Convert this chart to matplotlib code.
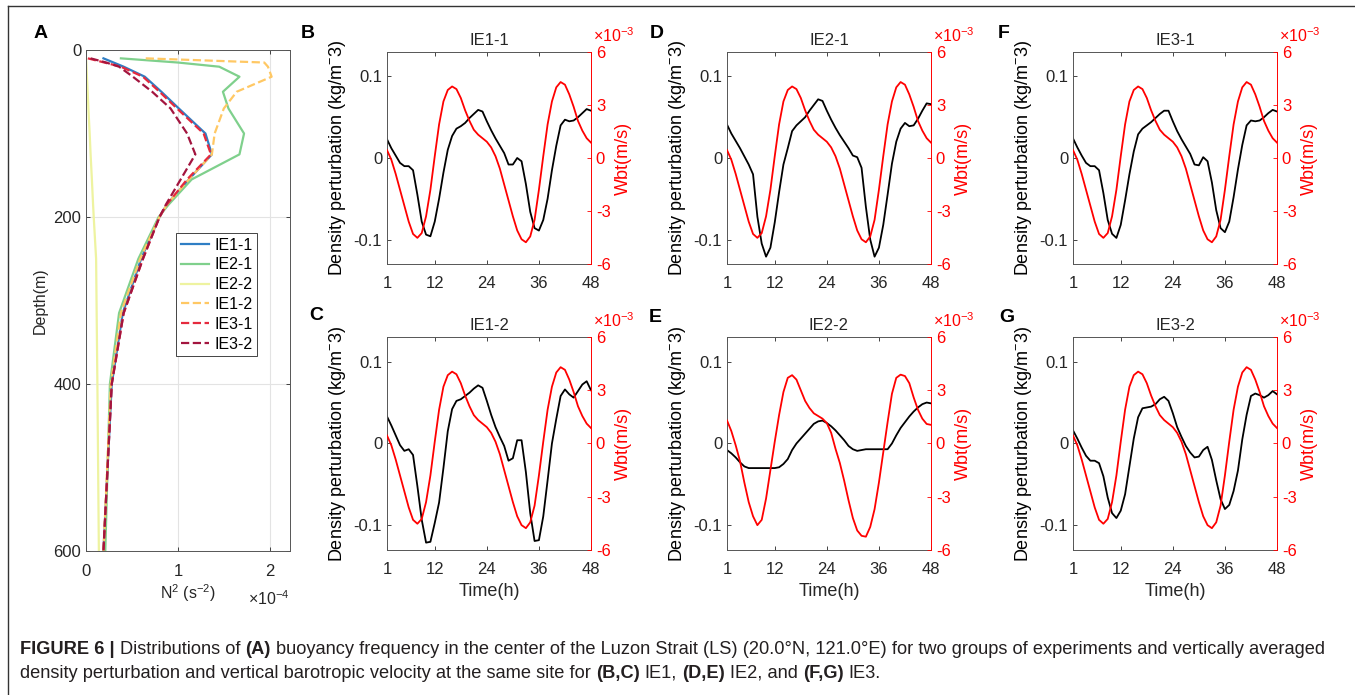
import numpy as np
import matplotlib
matplotlib.use("Agg")
import matplotlib.pyplot as plt
from matplotlib.lines import Line2D

plt.rcParams['font.family'] = ['Liberation Sans', 'DejaVu Sans']
plt.rcParams['mathtext.fontset'] = 'custom'
plt.rcParams['mathtext.rm'] = 'Liberation Sans'
plt.rcParams['mathtext.it'] = 'Liberation Sans:italic'
plt.rcParams['mathtext.bf'] = 'Liberation Sans:bold'
plt.rcParams['axes.unicode_minus'] = False

# ---- panel A: N^2 profiles (x in 1e-4 s^-2) ----
depth = [10, 15, 20, 32, 50, 70, 100, 125, 155, 185, 200, 250, 315, 400, 600]
n2_ie1_1 = [0.19, 0.30, 0.41, 0.64, 0.82, 1.01, 1.30, 1.37, 1.12, 0.88, 0.80, 0.60, 0.40, 0.28, 0.19]
n2_ie2_1 = [0.38, 1.00, 1.45, 1.67, 1.49, 1.55, 1.72, 1.67, 1.15, 0.90, 0.79, 0.57, 0.36, 0.26, 0.21]
n2_ie2_2 = [0.00, 0.003, 0.005, 0.01, 0.018, 0.026, 0.04, 0.05, 0.064, 0.077, 0.084, 0.11, 0.116, 0.124, 0.14]
n2_ie1_2 = [0.65, 1.94, 1.98, 2.02, 1.64, 1.50, 1.40, 1.37, 1.12, 0.88, 0.80, 0.59, 0.38, 0.27, 0.19]
n2_ie3_1 = [0.02, 0.20, 0.38, 0.62, 0.80, 0.99, 1.28, 1.36, 1.10, 0.88, 0.80, 0.62, 0.41, 0.28, 0.19]
n2_ie3_2 = [0.05, 0.22, 0.36, 0.51, 0.72, 0.92, 1.10, 1.19, 1.03, 0.87, 0.80, 0.62, 0.41, 0.28, 0.19]

profile_names = ['IE1-1', 'IE2-1', 'IE2-2', 'IE1-2', 'IE3-1', 'IE3-2']

# ---- panels B-G: hourly series ----
hours = np.arange(1, 49)

rho_ie1_1 = [0.023, 0.012, 0.003, -0.006, -0.010, -0.010, -0.015, -0.045, -0.078, -0.094,
             -0.096, -0.078, -0.050, -0.018, 0.010, 0.027, 0.036, 0.039, 0.043, 0.049,
             0.054, 0.059, 0.057, 0.045, 0.034, 0.024, 0.015, 0.006, -0.008, -0.008,
             0.000, -0.004, -0.032, -0.066, -0.086, -0.089, -0.076, -0.050, -0.015, 0.015,
             0.040, 0.047, 0.045, 0.046, 0.050, 0.055, 0.060, 0.058]
rho_ie1_2 = [0.033, 0.022, 0.010, -0.002, -0.009, -0.007, -0.014, -0.052, -0.093, -0.121,
             -0.120, -0.097, -0.072, -0.030, 0.015, 0.042, 0.052, 0.054, 0.058, 0.062,
             0.067, 0.071, 0.068, 0.052, 0.035, 0.020, 0.008, -0.003, -0.021, -0.018,
             0.004, 0.004, -0.035, -0.085, -0.119, -0.118, -0.089, -0.045, 0.000, 0.030,
             0.058, 0.066, 0.060, 0.056, 0.064, 0.072, 0.076, 0.065]
rho_ie2_1 = [0.041, 0.030, 0.021, 0.012, 0.002, -0.008, -0.020, -0.072, -0.105, -0.121,
             -0.110, -0.079, -0.042, -0.008, 0.012, 0.033, 0.040, 0.045, 0.050, 0.058,
             0.065, 0.072, 0.070, 0.058, 0.047, 0.037, 0.028, 0.020, 0.012, 0.003,
             0.001, -0.012, -0.060, -0.100, -0.121, -0.110, -0.082, -0.045, -0.007, 0.020,
             0.036, 0.043, 0.039, 0.040, 0.048, 0.058, 0.067, 0.066]
rho_ie2_2 = [-0.008, -0.012, -0.017, -0.023, -0.028, -0.030, -0.030, -0.030, -0.030, -0.030,
             -0.030, -0.030, -0.029, -0.025, -0.019, -0.008, 0.000, 0.006, 0.012, 0.018,
             0.024, 0.027, 0.028, 0.025, 0.021, 0.016, 0.010, 0.004, -0.003, -0.007,
             -0.009, -0.008, -0.007, -0.007, -0.007, -0.007, -0.007, -0.007, 0.000, 0.010,
             0.019, 0.026, 0.033, 0.039, 0.044, 0.048, 0.050, 0.049]
rho_ie3_1 = [0.024, 0.013, 0.003, -0.006, -0.010, -0.010, -0.015, -0.043, -0.076, -0.093,
             -0.098, -0.082, -0.052, -0.020, 0.008, 0.029, 0.036, 0.040, 0.044, 0.049,
             0.054, 0.058, 0.058, 0.045, 0.033, 0.023, 0.014, 0.005, -0.008, -0.009,
             0.001, -0.004, -0.030, -0.064, -0.086, -0.091, -0.078, -0.048, -0.014, 0.016,
             0.040, 0.046, 0.045, 0.046, 0.050, 0.055, 0.059, 0.057]
rho_ie3_2 = [0.016, 0.006, -0.005, -0.015, -0.021, -0.021, -0.024, -0.040, -0.066, -0.085,
             -0.091, -0.082, -0.062, -0.028, 0.006, 0.032, 0.043, 0.044, 0.045, 0.048,
             0.054, 0.057, 0.052, 0.037, 0.020, 0.008, -0.003, -0.011, -0.017, -0.016,
             -0.008, -0.004, -0.020, -0.045, -0.068, -0.080, -0.075, -0.058, -0.033, 0.005,
             0.035, 0.058, 0.061, 0.059, 0.056, 0.059, 0.064, 0.060]

# Wbt in 1e-3 m/s
wbt_main = [0.45, -0.1, -0.9, -1.8, -2.7, -3.6, -4.3, -4.52, -4.25, -3.3,
            -1.8, 0.1, 1.9, 3.2, 3.85, 4.05, 3.9, 3.4, 2.7, 2.1,
            1.6, 1.32, 1.12, 0.92, 0.6, 0.1, -0.6, -1.5, -2.4, -3.3,
            -4.1, -4.6, -4.77, -4.44, -3.5, -1.8, 0.1, 1.9, 3.2, 4.0,
            4.3, 4.15, 3.6, 2.9, 2.1, 1.55, 1.12, 0.87]
wbt_ie2_2 = [1.3, 0.7, -0.1, -1.0, -2.2, -3.3, -4.1, -4.6, -4.3, -3.1,
             -1.5, 0.1, 1.6, 2.9, 3.7, 3.85, 3.6, 3.0, 2.4, 2.0,
             1.7, 1.55, 1.4, 1.15, 0.6, -0.3, -1.1, -2.1, -3.2, -4.2,
             -4.9, -5.2, -5.25, -4.7, -3.7, -2.2, -0.5, 1.2, 2.8, 3.7,
             3.88, 3.8, 3.4, 2.6, 1.9, 1.4, 1.1, 1.05]

W, H = 1355, 695
fig = plt.figure(figsize=(W / 100, H / 100), dpi=100)
axc = '#262626'


def rect(l, t, r, b):
    return [l / W, 1 - b / H, (r - l) / W, (b - t) / H]


def ftext(x, y, s, **kw):
    return fig.text(x / W, 1 - y / H, s, **kw)


# ---- panel A ----
ax = fig.add_axes(rect(86, 50, 290, 551))
colors = ['#2f7ec4', '#7fd08c', '#eef3a0', '#ffc864', '#e52a3e', '#a3153f']
styles = ['-', '-', '-', '--', '--', '--']
for name, vals, c, ls in zip(profile_names,
                             [n2_ie1_1, n2_ie2_1, n2_ie2_2, n2_ie1_2, n2_ie3_1, n2_ie3_2],
                             colors, styles):
    ax.plot(vals, depth, color=c, ls=ls, lw=1.6, label=name)
ax.set_xlim(0, 2.22)
ax.set_ylim(600, 0)
ax.set_xticks([0, 1, 2])
ax.set_yticks([0, 200, 400, 600])
ax.grid(True, color='#e3e3e3', lw=0.8)
ax.set_axisbelow(True)
ax.tick_params(direction='in', top=True, right=True, length=3, labelsize=12,
               colors=axc, width=0.6)
ax.tick_params(axis='x', pad=9)
for s in ax.spines.values():
    s.set_color('#555555')
    s.set_linewidth(0.7)
ax.set_ylabel('Depth(m)', fontsize=11.5, color=axc, labelpad=4)
ax.set_xlabel('N$^2$ (s$^{-2}$)', fontsize=11.5, color=axc, labelpad=3)
ftext(290, 599, r'$\times$10$^{-4}$', fontsize=11.5, color=axc, ha='right', va='center')
leg = ax.legend(loc='upper left', bbox_to_anchor=(0.44, 0.635), fontsize=11.5,
                frameon=True, fancybox=False, edgecolor=axc, framealpha=1,
                handlelength=1.8, handletextpad=0.3, labelspacing=0.3,
                borderpad=0.3, borderaxespad=0)
leg.get_frame().set_linewidth(0.6)
ftext(41, 33, 'A', fontsize=14, fontweight='bold', ha='center', va='center')

# ---- panels B-G ----
panels = [
    ('B', 'IE1-1', rho_ie1_1, wbt_main, (387, 52, 591, 264), False, (308, 33)),
    ('C', 'IE1-2', rho_ie1_2, wbt_main, (387, 337, 591, 550), True, (316, 315)),
    ('D', 'IE2-1', rho_ie2_1, wbt_main, (727, 52, 931, 264), False, (657, 33)),
    ('E', 'IE2-2', rho_ie2_2, wbt_ie2_2, (727, 337, 931, 550), True, (655, 317)),
    ('F', 'IE3-1', rho_ie3_1, wbt_main, (1073, 52, 1277, 264), False, (1004, 33)),
    ('G', 'IE3-2', rho_ie3_2, wbt_main, (1073, 337, 1277, 550), True, (1007, 318)),
]

for letter, title, rho, wbt, box, xlab, lpos in panels:
    ax = fig.add_axes(rect(*box))
    ax.plot(hours, rho, color='black', lw=1.3)
    ax.set_xlim(1, 48)
    ax.set_ylim(-0.13, 0.13)
    ax.set_xticks([1, 12, 24, 36, 48])
    ax.set_yticks([-0.1, 0, 0.1])
    ax.set_yticklabels(['-0.1', '0', '0.1'])
    ax.tick_params(direction='in', top=True, right=False, length=3, labelsize=12,
                   colors=axc, width=0.6)
    ax.tick_params(axis='x', pad=9)
    for s in ax.spines.values():
        s.set_color('#555555')
        s.set_linewidth(0.7)
    ax.spines['right'].set_visible(False)
    ax.set_title(title, fontsize=12, color=axc, pad=5)
    ax.set_ylabel('Density perturbation (kg/m$^{-}$3)', fontsize=13, color='black', labelpad=4)
    if xlab:
        ax.set_xlabel('Time(h)', fontsize=13, color=axc, labelpad=4)

    ax2 = ax.twinx()
    ax2.plot(hours, wbt, color='red', lw=1.3)
    ax2.set_ylim(-6, 6)
    ax2.set_yticks([-6, -3, 0, 3, 6])
    ax2.tick_params(direction='in', length=3, labelsize=12, colors='red', width=0.6)
    for s in ['left', 'top', 'bottom']:
        ax2.spines[s].set_visible(False)
    ax2.spines['right'].set_color('red')
    ax2.spines['right'].set_linewidth(0.7)
    ax2.set_ylabel('Wbt(m/s)', fontsize=13, color='red', labelpad=3)
    ftext(box[2] + 2, box[1] - 16, r'$\times$10$^{-3}$', fontsize=11.5, color='red',
          ha='left', va='center')
    ftext(lpos[0], lpos[1], letter, fontsize=14, fontweight='bold', ha='center', va='center')

# ---- figure frame ----
fig.add_artist(Line2D([8 / W, 1], [1 - 6 / H, 1 - 6 / H], color='#333333', lw=1))
fig.add_artist(Line2D([8 / W, 8 / W], [1 - 6 / H, 0], color='#333333', lw=1))

# ---- caption ----
renderer = fig.canvas.get_renderer()
cap_size = 13.15
space_px = 0.278 * cap_size * 100 / 72
cap_color = '#231f20'


def rich_line(pieces, x_px, y_px):
    x = x_px
    for s, bold in pieces:
        if s.startswith(' '):
            x += space_px
        t = ftext(x, y_px, s.strip(), fontsize=cap_size, color=cap_color,
                  fontweight='bold' if bold else 'normal', ha='left', va='center')
        x += t.get_window_extent(renderer).width
        if s.endswith(' '):
            x += space_px


rich_line([('FIGURE 6 |', True), (' Distributions of ', False), ('(A)', True),
           (' buoyancy frequency in the center of the Luzon Strait (LS) (20.0\u00b0N, 121.0\u00b0E) '
            'for two groups of experiments and vertically averaged', False)], 20, 650)
rich_line([('density perturbation and vertical barotropic velocity at the same site for ', False),
           ('(B,C)', True), (' IE1, ', False), ('(D,E)', True), (' IE2, and ', False),
           ('(F,G)', True), (' IE3.', False)], 20, 673)

fig.savefig('out.png', dpi=100)
